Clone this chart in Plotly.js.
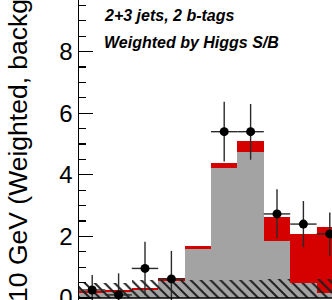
<!DOCTYPE html>
<html>
<head>
<meta charset="utf-8">
<script src="https://cdn.plot.ly/plotly-3.0.1.min.js"></script>
<style>
  html, body { margin: 0; padding: 0; background: #fff; }
  #chart { width: 332px; height: 300px; }
</style>
</head>
<body>
<div id="chart"></div>
<script>
// m(bb) bins, 10 GeV wide (centres)
const binCentres = [45, 55, 65, 75, 85, 95, 105, 115, 125, 135];
const binWidth = 10;

// Weighted yields per bin
const diboson = [0.16, 0.19, 0.25, 0.56, 1.60, 4.21, 4.73, 1.85, 0.49, 0.16];
const higgs   = [0.06, 0.06, 0.06, 0.10, 0.09, 0.18, 0.37, 0.79, 1.59, 2.15];

// Background-subtraction uncertainty band
const bkgUncert = [0.50, 0.50, 0.60, 0.60, 0.60, 0.60, 0.60, 0.62, 0.50, 0.62];

// Background-subtracted data with errors (bin 5 falls below zero)
const dataY    = [0.26, 0.10, 0.96, 0.62, null, 5.40, 5.40, 2.73, 2.40, 2.08];
const dataErrUp   = [0.49, 0.70, 0.87, 0.91, 0, 0.97, 0.90, 0.80, 0.75, 0.70];
const dataErrDown = [0.49, 0.70, 0.87, 0.91, 0, 0.97, 0.91, 0.79, 0.75, 0.72];

const yTicks = [0, 2, 4, 6, 8];

const stackTotal = diboson.map((v, i) => v + higgs[i]);
const halfWidths = binCentres.map(() => binWidth / 2);

const FONT = 'Liberation Sans, Arial, Helvetica, sans-serif';

const traces = [
  {
    type: 'bar', name: 'VH(bb)', x: binCentres, y: stackTotal,
    width: binWidth, marker: { color: '#d50000', line: { width: 0 } },
    hoverinfo: 'skip'
  },
  {
    type: 'bar', name: 'Diboson', x: binCentres, y: diboson,
    width: binWidth, marker: { color: '#a3a3a3', line: { width: 0 } },
    hoverinfo: 'skip'
  },
  {
    type: 'bar', name: 'Uncertainty', x: binCentres, y: bkgUncert,
    width: binWidth,
    marker: {
      color: 'rgba(0,0,0,0)', line: { width: 0 },
      pattern: { shape: '\\', fgcolor: '#1e1e1e', bgcolor: 'rgba(0,0,0,0)', size: 7, solidity: 0.28 }
    },
    hoverinfo: 'skip'
  },
  {
    type: 'scatter', mode: 'markers', name: 'Data', x: binCentres, y: dataY,
    marker: { color: '#000', size: 9 },
    error_x: { type: 'data', array: halfWidths, width: 0, thickness: 1.4, color: '#2a2a2a' },
    error_y: { type: 'data', array: dataErrUp, arrayminus: dataErrDown, symmetric: false, width: 0, thickness: 1.4, color: '#2a2a2a' },
    cliponaxis: true
  }
];

const zeroPx = 298;         // pixel row of y = 0
const pxPerUnit = 30.8;
const H = 300;
const layout = {
  width: 332, height: H,
  margin: { l: 79, r: 0, t: 0, b: 0, pad: 0 },
  paper_bgcolor: '#fff', plot_bgcolor: '#fff',
  showlegend: false,
  barmode: 'overlay', bargap: 0,
  font: { family: FONT, color: '#000' },
  xaxis: {
    range: [40, 40 + 253 / 2.64],
    showgrid: false, zeroline: false,
    showline: false, ticks: '', showticklabels: false
  },
  yaxis: {
    range: [-(H - zeroPx) / pxPerUnit, zeroPx / pxPerUnit],
    showgrid: false, zeroline: false,
    showline: true, linecolor: '#000', linewidth: 1.5,
    tickvals: yTicks, ticktext: yTicks.map(String),
    ticks: 'inside', ticklen: 14, tickwidth: 1.2, tickcolor: '#000',
    minor: { dtick: 0.5, ticks: 'inside', ticklen: 7, tickwidth: 1.2, tickcolor: '#000' },
    tickfont: { family: FONT, size: 24, color: '#000' },
    ticklabeloverflow: 'allow'
  },
  shapes: [
    // horizontal axis line at y = 0
    { type: 'line', xref: 'paper', yref: 'y', x0: 0, x1: 1, y0: 0, y1: 0,
      line: { color: '#000', width: 1.5 } }
  ],
  annotations: [
    {
      text: 'Events / 10 GeV (Weighted, backg. sub.)',
      textangle: -90, xref: 'paper', yref: 'paper',
      x: (18 - 79) / 253, y: (H - 165) / H,
      xanchor: 'center', yanchor: 'middle', showarrow: false,
      font: { family: FONT, size: 26.5, color: '#000' }
    },
    {
      text: '2+3 jets, 2 b-tags',
      xref: 'paper', yref: 'paper', x: (102 - 79) / 253, y: 1 - 5 / H,
      xanchor: 'left', yanchor: 'top', showarrow: false,
      font: { family: FONT, size: 16, weight: 'bold', style: 'italic', color: '#000' }
    },
    {
      text: 'Weighted by Higgs S/B',
      xref: 'paper', yref: 'paper', x: (102 - 79) / 253, y: 1 - 32 / H,
      xanchor: 'left', yanchor: 'top', showarrow: false,
      font: { family: FONT, size: 16, weight: 'bold', style: 'italic', color: '#000' }
    }
  ]
};

Plotly.newPlot('chart', traces, layout, { staticPlot: true, displayModeBar: false });
</script>
</body>
</html>
